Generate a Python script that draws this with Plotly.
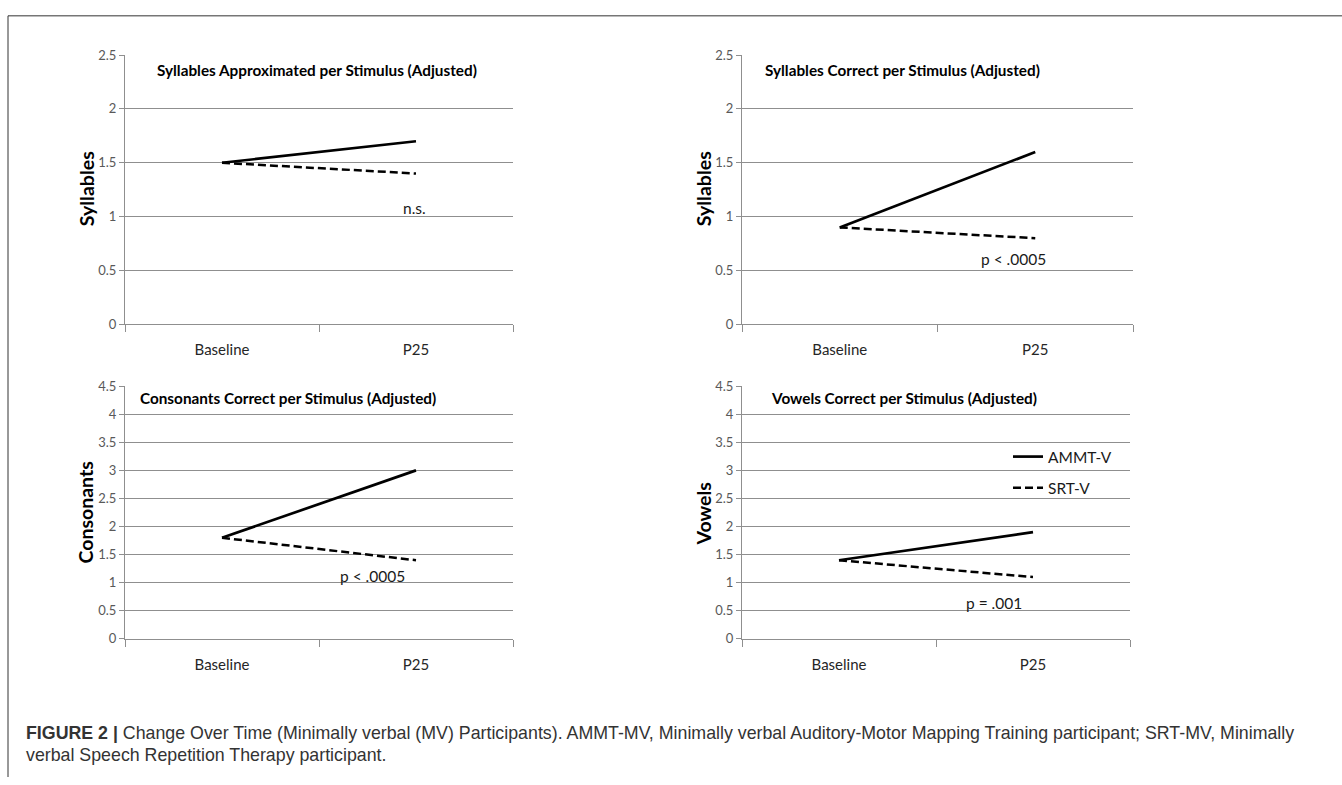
import plotly.graph_objects as go

W, H = 1342, 785

# ---------------- data ----------------
categories = ["Baseline", "P25"]
series_names = ["AMMT-V", "SRT-V"]

titles = [
    "Syllables Approximated per Stimulus (Adjusted)",
    "Syllables Correct per Stimulus (Adjusted)",
    "Consonants Correct per Stimulus (Adjusted)",
    "Vowels Correct per Stimulus (Adjusted)",
]
y_titles = ["Syllables", "Syllables", "Consonants", "Vowels"]

ammt_syll_approx = [1.5, 1.7]
srt_syll_approx = [1.5, 1.4]
ammt_syll_correct = [0.9, 1.6]
srt_syll_correct = [0.9, 0.8]
ammt_consonants = [1.8, 3.0]
srt_consonants = [1.8, 1.4]
ammt_vowels = [1.4, 1.9]
srt_vowels = [1.4, 1.1]

y_max = [2.5, 2.5, 4.5, 4.5]
p_labels = ["n.s.", "p < .0005", "p < .0005", "p = .001"]

caption_bold = "FIGURE 2 |"
caption_line1 = ("Change Over Time (Minimally verbal (MV) Participants). AMMT-MV, Minimally verbal "
                 "Auditory-Motor Mapping Training participant; SRT-MV, Minimally")
caption_line2 = "verbal Speech Repetition Therapy participant."

panel_ammt = [ammt_syll_approx, ammt_syll_correct, ammt_consonants, ammt_vowels]
panel_srt = [srt_syll_approx, srt_syll_correct, srt_consonants, srt_vowels]

# ---------------- layout geometry (pixels) ----------------
def px(x):
    return x / W

def py(y):
    return 1 - y / H

panels = [  # x0, x1, ytop, ybottom
    (125, 513, 48, 323),
    (742, 1133, 48, 323),
    (125, 513, 386, 644),
    (742, 1130, 386, 644),
]
title_pos = [(155, 63), (763, 63), (138, 398), (769, 398)]
ytitle_pos = [(86, 185), (703, 185), (86, 515), (703, 517)]
p_pos = [(414, 204), (1013, 256), (372, 580), (994, 607)]

FONT = "Lato, 'Open Sans', sans-serif"
GRID = "#8f8f8f"
TICKC = "#595959"

fig = go.Figure()
annotations = []

for i in range(4):
    sfx = "" if i == 0 else str(i + 1)
    xa, ya = "x" + sfx, "y" + sfx
    show = (i == 3)
    fig.add_trace(go.Scatter(
        x=categories, y=panel_ammt[i], mode="lines", name=series_names[0],
        line=dict(color="black", width=2.7), xaxis=xa, yaxis=ya,
        showlegend=show, legendgroup="a"))
    fig.add_trace(go.Scatter(
        x=categories, y=panel_srt[i], mode="lines", name=series_names[1],
        line=dict(color="black", width=2.5, dash="8px,4px"), xaxis=xa, yaxis=ya,
        showlegend=show, legendgroup="b"))

    x0, x1, yt, yb = panels[i]
    fig.update_layout(**{
        "xaxis" + sfx: dict(
            domain=[px(x0), px(x1)], anchor=ya, type="category",
            categoryorder="array", categoryarray=categories,
            range=[-0.5, 1.5], tickson="boundaries", ticks="outside", ticklen=7,
            tickcolor=GRID, showline=True, linecolor=GRID, linewidth=1,
            showgrid=False, zeroline=False, ticklabelstandoff=12,
            tickfont=dict(family=FONT, size=15, color="#262626")),
        "yaxis" + sfx: dict(
            domain=[py(yb), py(yt)], anchor=xa, range=[0, y_max[i]], dtick=0.5,
            tick0=0, showgrid=True, gridcolor=GRID, gridwidth=1, showline=True,
            linecolor=GRID, linewidth=1, ticks="outside", ticklen=5, tickcolor=GRID,
            zeroline=False,
            tickfont=dict(family=FONT, size=13, color=TICKC)),
    })

    tx, ty = title_pos[i]
    annotations.append(dict(text="<b>" + titles[i] + "</b>", x=px(tx), y=py(ty),
                            xref="paper", yref="paper", xanchor="left", yanchor="middle",
                            showarrow=False, font=dict(family=FONT, size=15.3, color="black")))
    ax, ay = ytitle_pos[i]
    annotations.append(dict(text="<b>" + y_titles[i] + "</b>", x=px(ax), y=py(ay),
                            xref="paper", yref="paper", xanchor="center", yanchor="middle",
                            textangle=-90, showarrow=False,
                            font=dict(family=FONT, size=19.5, color="black")))
    qx, qy = p_pos[i]
    annotations.append(dict(text=p_labels[i], x=px(qx), y=py(qy),
                            xref="paper", yref="paper", xanchor="center", yanchor="middle",
                            showarrow=False, font=dict(family=FONT, size=15.5, color="#1a1a1a")))

CAPF = "'Liberation Sans', Arial, sans-serif"
annotations.append(dict(
    text="<b>" + caption_bold + "</b> " + caption_line1, x=px(24), y=py(740),
    xref="paper", yref="paper", xanchor="left", yanchor="middle", showarrow=False,
    font=dict(family=CAPF, size=17.8, color="#333333")))
annotations.append(dict(
    text=caption_line2, x=px(24), y=py(763),
    xref="paper", yref="paper", xanchor="left", yanchor="middle", showarrow=False,
    font=dict(family=CAPF, size=17.8, color="#333333")))

fig.update_layout(
    width=W, height=H, margin=dict(l=0, r=0, t=0, b=0),
    paper_bgcolor="white", plot_bgcolor="white",
    annotations=annotations,
    legend=dict(x=px(1008), y=py(441), xanchor="left", yanchor="top",
                bgcolor="rgba(0,0,0,0)", tracegroupgap=8, itemwidth=30,
                font=dict(family=FONT, size=15.5, color="#1a1a1a")),
    shapes=[
        dict(type="line", xref="paper", yref="paper", x0=px(8), x1=1, y0=py(8), y1=py(8),
             line=dict(color="#333333", width=1)),
        dict(type="line", xref="paper", yref="paper", x0=px(8), x1=px(8), y0=py(8), y1=0,
             line=dict(color="#333333", width=1)),
    ],
)

fig.write_html("out.html", config={"displayModeBar": False},
               post_script="document.body.style.margin='0';document.body.style.overflow='hidden';")
